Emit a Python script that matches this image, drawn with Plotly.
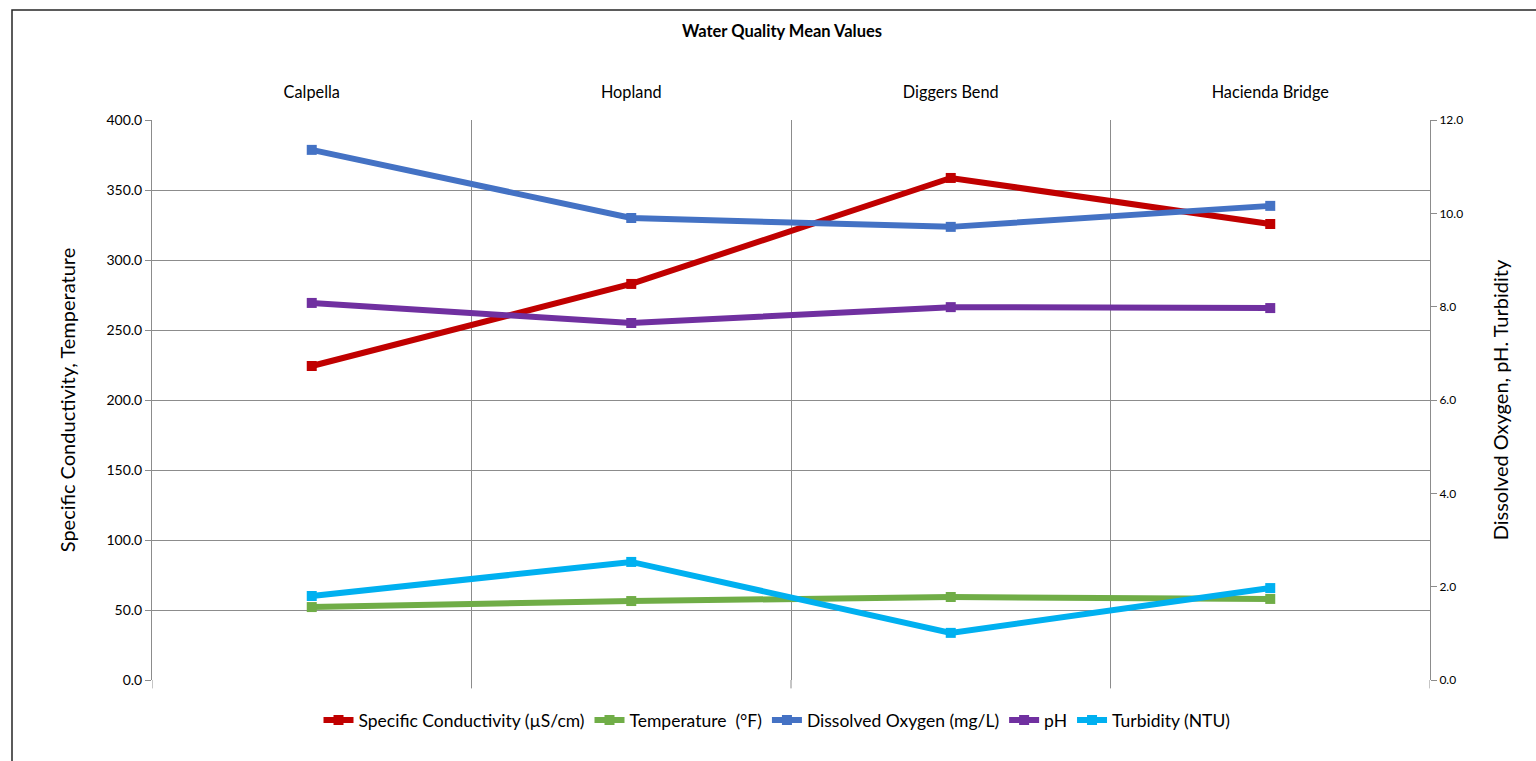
import plotly.graph_objects as go

sites = ["Calpella", "Hopland", "Diggers Bend", "Hacienda Bridge"]
spec_cond = [224.3, 282.9, 358.6, 325.7]
temperature = [52.1, 56.4, 59.3, 57.9]
dissolved_oxygen = [11.36, 9.90, 9.71, 10.16]
ph = [8.08, 7.65, 7.99, 7.97]
turbidity = [1.80, 2.53, 1.01, 1.97]

FONT = "Lato"
GRID = "#8c8c8c"

series = [
    ("Specific Conductivity (µS/cm)", spec_cond, "#C00000", "y"),
    ("Temperature  (°F)", temperature, "#70AD47", "y"),
    ("Dissolved Oxygen (mg/L)", dissolved_oxygen, "#4472C4", "y2"),
    ("pH", ph, "#7030A0", "y2"),
    ("Turbidity (NTU)", turbidity, "#00B0F0", "y2"),
]

fig = go.Figure()
for name, vals, color, yax in series:
    fig.add_trace(go.Scatter(
        x=sites, y=vals, name=name, yaxis=yax, mode="lines+markers",
        line=dict(color=color, width=6),
        marker=dict(symbol="square", size=10, color=color),
    ))

# small tick marks below the plot at category boundaries
for b in [-0.5, 0.5, 1.5, 2.5, 3.5]:
    fig.add_shape(type="line", xref="x", yref="paper", x0=b, x1=b, y0=0, y1=-0.015,
                  line=dict(color=GRID, width=1))

# chart border (only top/left visible in the crop)
fig.add_shape(type="rect", xref="paper", yref="paper",
              x0=-140/1278, x1=1.5, y0=-0.5, y1=1 + 110/560,
              line=dict(color="#262626", width=1.5), layer="below")

fig.update_layout(
    width=1536, height=761,
    margin=dict(l=152, r=106, t=120, b=81),
    paper_bgcolor="white", plot_bgcolor="white",
    font=dict(family=FONT, color="#000000"),
    title=dict(text="<b>Water Quality Mean Values</b>", x=782/1536, xanchor="center",
               y=1 - 31/761, yanchor="middle", font=dict(size=16.5, family=FONT)),
    xaxis=dict(type="category", side="top", range=[-0.5, 3.5], tickson="boundaries",
               ticks="", showgrid=True, gridcolor=GRID, gridwidth=1,
               showline=False, zeroline=False, ticklabelstandoff=18,
               tickfont=dict(size=16.3, family=FONT)),
    yaxis=dict(range=[0, 400], dtick=50, tickformat=".1f", ticks="outside", ticklen=6,
               tickcolor=GRID, showline=True, linecolor=GRID, linewidth=1,
               showgrid=True, gridcolor=GRID, gridwidth=1, zeroline=False,
               tickfont=dict(size=14, family=FONT),
               title=dict(text="Specific Conductivity, Temperature", standoff=25,
                          font=dict(size=20, family=FONT))),
    yaxis2=dict(range=[0, 12], dtick=2, tickformat=".1f", overlaying="y", side="right",
                ticks="outside", ticklen=6, tickcolor=GRID, showline=True, linecolor=GRID,
                linewidth=1, showgrid=False, zeroline=False,
                tickfont=dict(size=12, family=FONT),
                title=dict(text="Dissolved Oxygen, pH. Turbidity", standoff=31,
                           font=dict(size=20, family=FONT))),
    legend=dict(orientation="h", x=(777 - 152) / 1278, xanchor="center",
                y=-40/560, yanchor="middle", font=dict(size=17.5, family=FONT),
                itemwidth=30, tracegroupgap=0),
    showlegend=True,
)

fig.write_html("out.html", config={"displayModeBar": False},
               post_script="document.body.style.margin='0';document.body.style.overflow='hidden';")
